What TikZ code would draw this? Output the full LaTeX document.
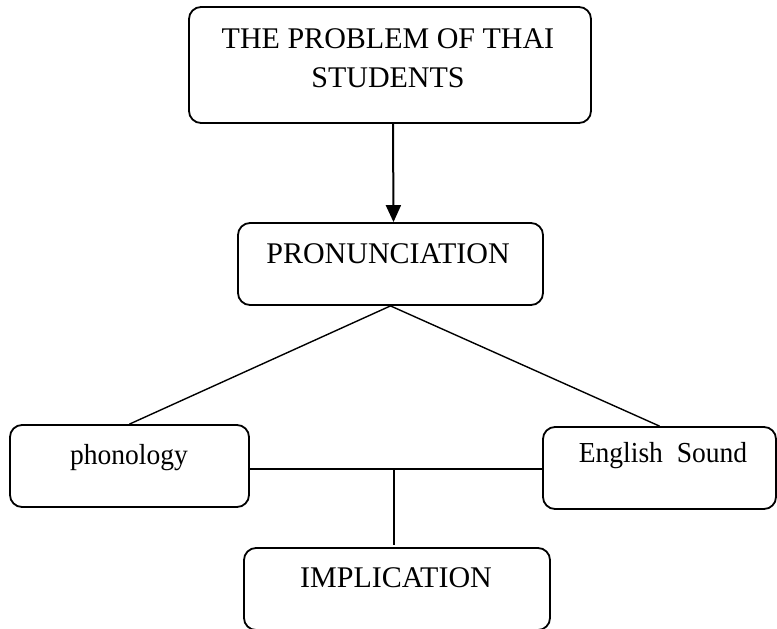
\documentclass[tikz,border=0pt]{standalone}
\usepackage{fontspec}
\setmainfont{Liberation Serif}
\usetikzlibrary{arrows.meta,calc}
\begin{document}
\begin{tikzpicture}[x=1pt,y=-1pt,
  box/.style={draw,line width=1.8pt,rounded corners=12pt,inner sep=0pt},
  lbl/.style={inner sep=0pt,font=\fontsize{30}{39}\selectfont,align=center},
  slbl/.style={inner sep=0pt,font=\fontsize{29}{34}\selectfont},
  conn/.style={line width=1.4pt},
  arr/.style={line width=2pt,-{Triangle[length=17pt,width=15pt]}}]
\useasboundingbox (0,0) rectangle (777,629);
\node[box,minimum width=402pt,minimum height=116pt] (top) at (390,65) {};
\node[lbl] (toptext) at (388,58) {THE PROBLEM OF THAI\\STUDENTS};
\node[box,minimum width=305pt,minimum height=82pt] (pron) at (390.5,264) {};
\node[lbl] (prontext) at (388,254) {PRONUNCIATION};
\node[box,minimum width=239pt,minimum height=82pt] (phon) at (129.5,466) {};
\node[slbl,xscale=0.95] (phontext) at (129,458) {phonology};
\node[box,minimum width=233pt,minimum height=82pt] (eng) at (659.5,468) {};
\node[slbl,xscale=0.95] (engtext) at (663,456) {English\hspace{0.5em}Sound};
\node[box,minimum width=306pt,minimum height=82pt] (impl) at (397,589) {};
\node[lbl] (impltext) at (396,578) {IMPLICATION};
\draw[arr] ($(top.south)+(3,0)$) -- ($(pron.north)+(3,0)$);
\draw[conn] (pron.south) -- (phon.north);
\draw[conn] (pron.south) -- (eng.north);
\coordinate (junc) at (394,469);
\coordinate (vend) at (394,545);
\draw[conn] (phon.east |- junc) -- (eng.west |- junc);
\draw[conn] (junc) -- (vend);
\end{tikzpicture}
\end{document}
